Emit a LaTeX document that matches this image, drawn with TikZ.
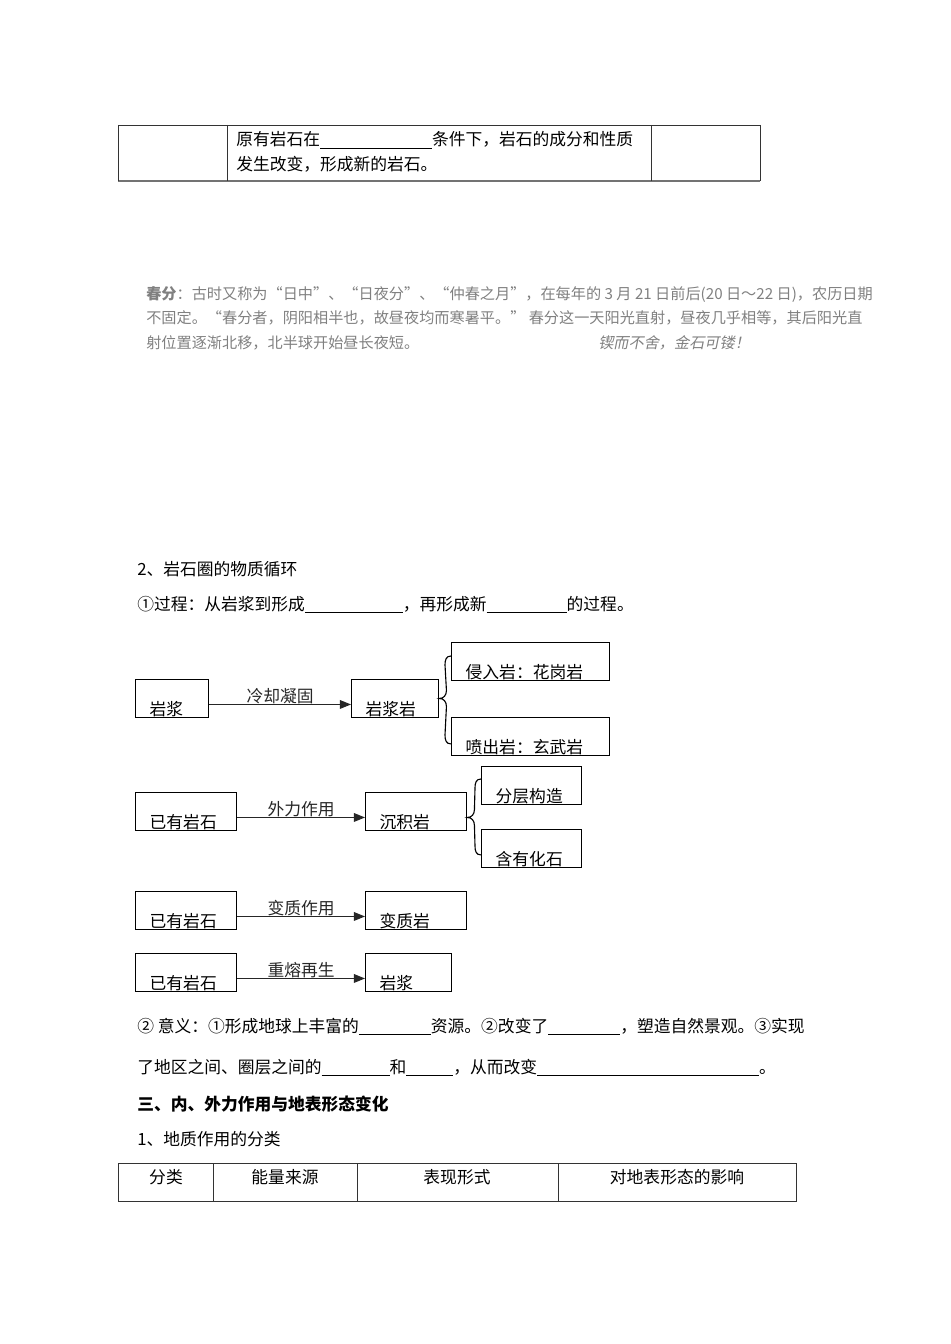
\documentclass[tikz,border=0pt]{standalone}
\usepackage{fontspec}
\setmainfont{Noto Sans CJK SC}
\newfontfamily\slantfont{Noto Sans CJK SC}[FakeSlant=0.2]
\usepackage{tikz}
\usetikzlibrary{arrows.meta,calc,positioning}
\definecolor{rgray}{HTML}{808080}
\definecolor{rline}{HTML}{333333}
\newlength\pxu
\setlength\pxu{0.6265pt}
\newcommand\rfont{\fontsize{10.5}{12}\selectfont}
\newcommand\nfont{\fontsize{9.5}{11}\selectfont}
\newcommand\blank[1]{\underline{\hspace{#1\pxu}}}
\tikzset{
  >={Triangle[length=7pt,width=5.5pt]},
  rrule/.style={rline, line width=0.6pt},
  rtext/.style={anchor=base west, inner sep=0pt, font=\rfont},
  rhead/.style={anchor=base, inner sep=0pt, font=\rfont},
  rnote/.style={anchor=base west, inner sep=0pt, font=\nfont, rgray},
  rbox/.style={draw=black, line width=0.9pt, anchor=north west,
               inner xsep=14\pxu, inner ysep=0pt, text height=36\pxu,
               text depth=1.5\pxu, align=left, font=\rfont},
  rarrow/.style={->, black!85, line width=0.6pt},
  rlbl/.style={midway, above, inner sep=0pt, font=\rfont},
  rbrace/.style={black, line width=0.7pt},
}
\begin{document}
\begin{tikzpicture}[x=0.6265pt,y=-0.6265pt]
  \useasboundingbox (0,0) rectangle (950,1344);

  % --- 表格（上） ---
  \draw[rrule] (118,125) -- (760,125);
  \draw[rrule, line width=1.1pt, black!55] (118,181) -- (760,181);
  \foreach \x in {118,227,651,760}
    \draw[rrule] (\x,125) -- (\x,181);
  \node[rtext] (cond1) at (236,146) {原有岩石在\blank{112}条件下，岩石的成分和性质};
  \node[rtext] (cond2) at (236,171) {发生改变，形成新的岩石。};

  % --- 春分 ---
  \node[rnote] (note1) at (146,300) {\textbf{春分}：古时又称为“日中”、“日夜分”、“仲春之月”，在每年的 3 月 21 日前后(20 日～22 日)，农历日期};
  \node[rnote] (note2) at (146,324) {不固定。“春分者，阴阳相半也，故昼夜均而寒暑平。” 春分这一天阳光直射，昼夜几乎相等，其后阳光直};
  \node[rnote] (note3) at (146,348) {射位置逐渐北移，北半球开始昼长夜短。};
  \node[rnote, font=\nfont\slantfont] (motto) at (598,348) {锲而不舍，金石可镂！};

  % --- 物质循环 ---
  \node[rtext] (sec2) at (137,575) {2、岩石圈的物质循环};
  \node[rtext] (proc) at (137,610) {①过程：从岩浆到形成\blank{98}，再形成新\blank{80}的过程。};

  % 岩浆 -> 岩浆岩
  \node[rbox, text width=45\pxu] (magma) at (135,679) {岩浆};
  \node[rbox, text width=59\pxu] (igneous) at (351,679) {岩浆岩};
  \node[rbox, text width=130\pxu] (intrusive) at (451,642) {侵入岩：花岗岩};
  \node[rbox, text width=130\pxu] (extrusive) at (451,717) {喷出岩：玄武岩};
  \draw[rarrow] ([yshift=-6\pxu]magma.east) -- node[rlbl] {冷却凝固} ([yshift=-6\pxu]igneous.west);
  \coordinate (b1top) at ($(intrusive.north west)+(0,14)$);
  \coordinate (b1bot) at ($(extrusive.south west)+(0,-12)$);
  \draw[rbrace] (b1top) .. controls +(-5,0) and +(0,-5) .. ++(-6,9)
    -- ($(igneous.east)+(7,-8)$) .. controls +(0,5) and +(4,0) .. (igneous.east)
    .. controls +(4,0) and +(0,-5) .. ($(igneous.east)+(7,8)$)
    -- ($(b1bot)+(-6,-9)$) .. controls +(0,5) and +(-5,0) .. (b1bot);

  % 已有岩石 -> 沉积岩
  \node[rbox, text width=73\pxu] (rockA) at (135,792) {已有岩石};
  \node[rbox, text width=73\pxu] (sediment) at (365,792) {沉积岩};
  \node[rbox, text width=72\pxu] (layer) at (481,766) {分层构造};
  \node[rbox, text width=72\pxu] (fossil) at (481,829) {含有化石};
  \draw[rarrow] ([yshift=-6\pxu]rockA.east) -- node[rlbl] {外力作用} ([yshift=-6\pxu]sediment.west);
  \coordinate (b2tip) at ([yshift=-6\pxu]sediment.east);
  \coordinate (b2top) at ($(layer.north west)+(0,13)$);
  \coordinate (b2bot) at ($(fossil.south west)+(0,-13)$);
  \draw[rbrace] (b2top) .. controls +(-5,0) and +(0,-5) .. ++(-6,9)
    -- ($(b2tip)+(7,-8)$) .. controls +(0,5) and +(4,0) .. (b2tip)
    .. controls +(4,0) and +(0,-5) .. ($(b2tip)+(7,8)$)
    -- ($(b2bot)+(-6,-9)$) .. controls +(0,5) and +(-5,0) .. (b2bot);

  % 已有岩石 -> 变质岩
  \node[rbox, text width=73\pxu] (rockB) at (135,891) {已有岩石};
  \node[rbox, text width=73\pxu] (meta) at (365,891) {变质岩};
  \draw[rarrow] ([yshift=-6\pxu]rockB.east) -- node[rlbl] {变质作用} ([yshift=-6\pxu]meta.west);

  % 已有岩石 -> 岩浆
  \node[rbox, text width=73\pxu] (rockC) at (135,953) {已有岩石};
  \node[rbox, text width=58\pxu] (remelt) at (365,953) {岩浆};
  \draw[rarrow] ([yshift=-6\pxu]rockC.east) -- node[rlbl] {重熔再生} ([yshift=-6\pxu]remelt.west);

  % --- 意义 ---
  \node[rtext] (mean1) at (137,1032) {② 意义：①形成地球上丰富的\blank{72}资源。②改变了\blank{72}，塑造自然景观。③实现};
  \node[rtext] (mean2) at (137,1073) {了地区之间、圈层之间的\blank{68}和\blank{47}，从而改变\blank{222}。};
  \node[rtext, font=\rfont\bfseries] (sec3) at (137,1110) {三、内、外力作用与地表形态变化};
  \node[rtext] (sec31) at (137,1145) {1、地质作用的分类};

  % --- 表格（下） ---
  \draw[rrule] (118,1163) rectangle (796,1201);
  \foreach \x in {213,357,558}
    \draw[rrule] (\x,1163) -- (\x,1201);
  \node[rhead] (h1) at (166,1183) {分类};
  \node[rhead] (h2) at (285,1183) {能量来源};
  \node[rhead] (h3) at (457,1183) {表现形式};
  \node[rhead] (h4) at (677,1183) {对地表形态的影响};

\end{tikzpicture}
\end{document}
